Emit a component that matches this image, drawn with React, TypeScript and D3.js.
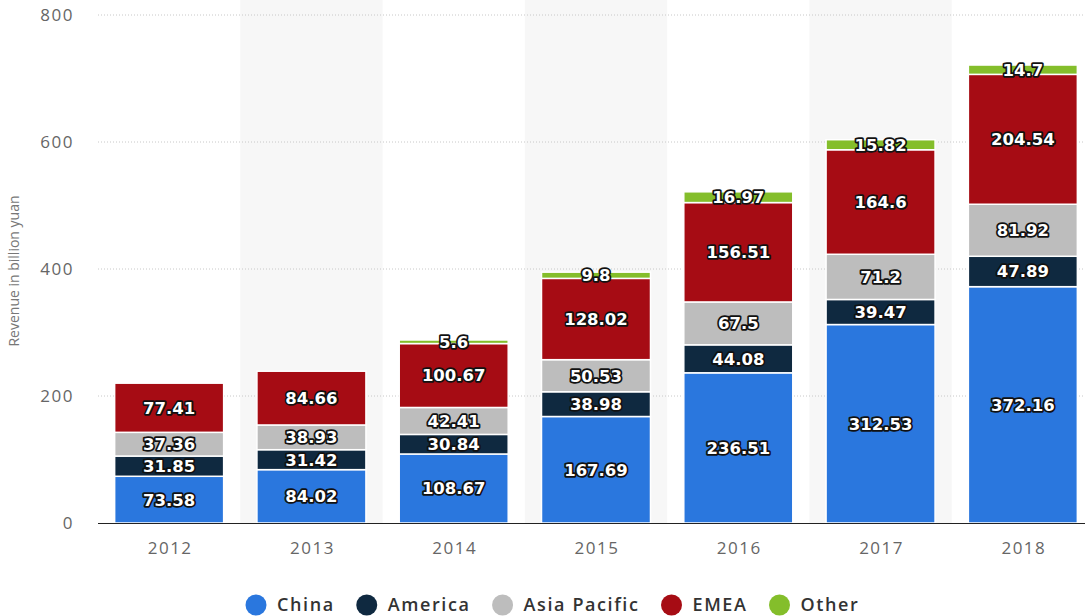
import React, { useEffect, useRef, useState } from "react";
import * as d3 from "d3";

const years = ["2012", "2013", "2014", "2015", "2016", "2017", "2018"];
const seriesNames = ["China", "America", "Asia Pacific", "EMEA", "Other"];
const china = [73.58, 84.02, 108.67, 167.69, 236.51, 312.53, 372.16];
const america = [31.85, 31.42, 30.84, 38.98, 44.08, 39.47, 47.89];
const asiaPacific = [37.36, 38.93, 42.41, 50.53, 67.5, 71.2, 81.92];
const emea = [77.41, 84.66, 100.67, 128.02, 156.51, 164.6, 204.54];
const other = [0, 0, 5.6, 9.8, 16.97, 15.82, 14.7];
const yTicks = [0, 200, 400, 600, 800];
const colors = ["#2a77de", "#0f2940", "#bdbdbd", "#a60c14", "#84be2b"];

const W = 1085;
const H = 616;
const plotLeft = 98;
const plotRight = 1094;
const plotTop = 15;
const plotBottom = 523;

export default function App() {
  const seriesValues = [china, america, asiaPacific, emea, other];
  const rows = years.map((yr, i) => {
    const r: any = { year: yr };
    seriesNames.forEach((s, k) => (r[s] = seriesValues[k][i]));
    return r;
  });
  const stack = d3.stack<any>().keys(seriesNames)(rows);

  const x = d3.scaleBand().domain(years).range([plotLeft, plotRight]).paddingInner(0.234).paddingOuter(0.117);
  const band = d3.scaleBand().domain(years).range([plotLeft, plotRight]).padding(0);
  const y = d3.scaleLinear().domain([0, 800]).range([plotBottom, plotTop]);

  const legendRef = useRef<SVGGElement>(null);
  const [legendX, setLegendX] = useState<number[]>([245, 354, 490, 657, 764]);
  useEffect(() => {
    const g = legendRef.current;
    if (!g) return;
    const texts = Array.from(g.querySelectorAll("text")) as SVGTextElement[];
    const widths = texts.map((t) => t.getComputedTextLength());
    const xs: number[] = [];
    let cx = 245;
    widths.forEach((w) => {
      xs.push(cx);
      cx += 32 + w + 21;
    });
    if (xs.some((v, i) => Math.abs(v - legendX[i]) > 0.5)) setLegendX(xs);
  }, []);

  const labelStyle: React.CSSProperties = {
    fontFamily: "'DejaVu Sans', Verdana, sans-serif",
    fontWeight: "bold",
    fontSize: 16.5,
    fill: "#ffffff",
    stroke: "#111111",
    strokeWidth: 3.5,
    paintOrder: "stroke",
    strokeLinejoin: "round",
  };

  const tickFont = { fill: "#666", fontSize: 17, letterSpacing: 1.5, fontFamily: "'Open Sans', sans-serif" };

  return (
    <svg width={W} height={H} style={{ position: "absolute", left: 0, top: 0, background: "#fff" }}>
      {/* alternating column shading */}
      {years.map((yr, i) =>
        i % 2 === 1 ? (
          <rect key={"bg" + yr} x={band(yr)} y={0} width={band.bandwidth()} height={plotBottom} fill="#f7f7f7" />
        ) : null
      )}
      {/* gridlines */}
      {yTicks.filter((t) => t > 0).map((t) => (
        <line key={"g" + t} x1={plotLeft} x2={plotRight} y1={y(t)} y2={y(t)} stroke="#c8c8c8" strokeWidth={1} strokeDasharray="1,2" />
      ))}
      {/* y tick labels */}
      {yTicks.map((t) => (
        <text key={"yt" + t} x={74} y={y(t)} dy="0.35em" textAnchor="end" {...tickFont}>
          {t}
        </text>
      ))}
      <text
        transform={`translate(19,${271}) rotate(-90)`}
        textAnchor="middle"
        fill="#777"
        fontSize={14}
        fontFamily="'Open Sans', sans-serif"
      >
        Revenue in billion yuan
      </text>
      {/* stacked bars */}
      {stack.map((layer, k) => (
        <g key={layer.key}>
          {layer.map((d, i) => {
            const v = seriesValues[k][i];
            if (v <= 0) return null;
            return (
              <rect
                key={years[i]}
                x={x(years[i])}
                y={y(d[1])}
                width={x.bandwidth()}
                height={y(d[0]) - y(d[1])}
                fill={colors[k]}
                stroke="#ffffff"
                strokeWidth={1.5}
              />
            );
          })}
        </g>
      ))}
      {/* value labels */}
      {stack.map((layer, k) => (
        <g key={"l" + layer.key}>
          {layer.map((d, i) => {
            const v = seriesValues[k][i];
            if (v <= 0) return null;
            return (
              <text
                key={years[i]}
                x={(x(years[i]) as number) + x.bandwidth() / 2}
                y={y((d[0] + d[1]) / 2)}
                dy="0.36em"
                textAnchor="middle"
                style={labelStyle}
              >
                {String(v)}
              </text>
            );
          })}
        </g>
      ))}
      {/* baseline */}
      <line x1={plotLeft} x2={plotRight} y1={plotBottom + 0.5} y2={plotBottom + 0.5} stroke="#222" strokeWidth={1.2} />
      {/* x tick labels */}
      {years.map((yr) => (
        <text
          key={"xt" + yr}
          x={(x(yr) as number) + x.bandwidth() / 2 + 1}
          y={554}
          textAnchor="middle"
          {...tickFont}
        >
          {yr}
        </text>
      ))}
      {/* legend */}
      <g ref={legendRef}>
        {seriesNames.map((s, k) => (
          <g key={"lg" + s} transform={`translate(${legendX[k]},605)`}>
            <circle cx={11} cy={0} r={10.5} fill={colors[k]} />
            <text x={32} y={0} dy="0.36em" fill="#333" fontSize={18} fontWeight={600} letterSpacing={1.6} fontFamily="'Open Sans', sans-serif">
              {s}
            </text>
          </g>
        ))}
      </g>
    </svg>
  );
}
